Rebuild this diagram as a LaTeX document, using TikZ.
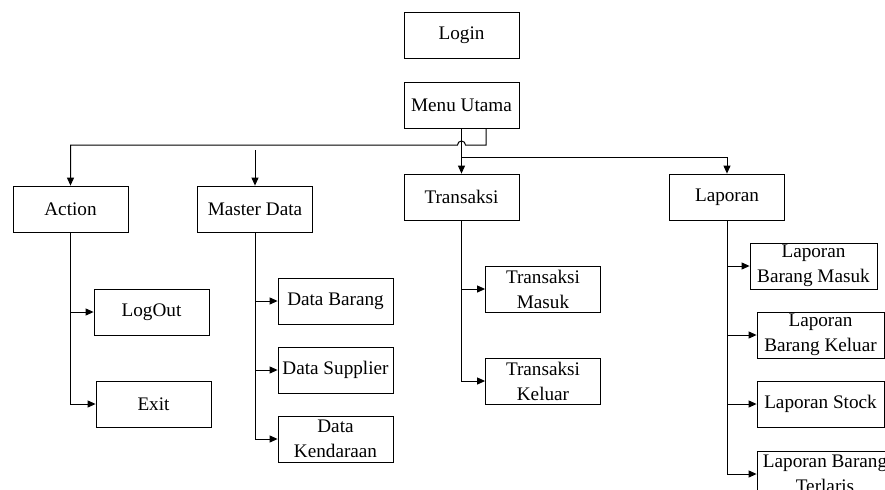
\documentclass[tikz,border=0pt]{standalone}
\usepackage{fontspec}
\setmainfont{Liberation Serif}
\usetikzlibrary{arrows.meta, positioning}

\begin{document}
\begin{tikzpicture}[x=0.5pt, y=-0.5pt,
  menubox/.style={draw=black, fill=white, text=black, minimum width=57.5pt,
  minimum height=23pt, inner sep=1pt, align=center,
  font=\fontsize{9.6}{12.5}\selectfont},
  widebox/.style={menubox, minimum width=63.5pt},
  link/.style={-{Triangle[length=4pt, width=3.5pt]}, line width=0.5pt}]

    \useasboundingbox (0,0) rectangle (885,489);
    \clip (0,0) rectangle (885,489);

    %creates login and main menu
    \node (login) [menubox] at (461.5,35.5) {Login};%draws Login
    \node (menu) [menubox, below=11.5pt of login] {Menu Utama};%draws Menu Utama

    %creates the four main parts
    \node (action) [menubox] at (70.5,209) {Action};
    \node (master) [menubox] at (255,209) {Master Data};
    \node (trans) [menubox] at (461.5,197) {Transaksi};
    \node (lap) [menubox] at (727,197) {Laporan};

    %creates the sub menus
    \node (logout) [menubox] at (151.5,312) {LogOut};
    \node (exit) [menubox] at (153.5,404) {Exit};
    \node (barang) [menubox] at (335.5,301) {Data Barang};
    \node (supplier) [menubox] at (335.5,370) {Data Supplier};
    \node (kendaraan) [menubox] at (335.5,439) {Data\\Kendaraan};
    \node (tmasuk) [menubox] at (543,289) {Transaksi\\Masuk};
    \node (tkeluar) [menubox] at (543,381) {Transaksi\\Keluar};
    \node (lmasuk) [widebox] at (813.5,266) {Laporan\\Barang Masuk};
    \node (lkeluar) [widebox] at (820.5,335) {Laporan\\Barang Keluar};
    \node (lstock) [widebox] at (820.5,404) {Laporan Stock};
    \node (lterlaris) [widebox, minimum width=68pt] at (825,474) {Laporan Barang\\Terlaris};

    %points where the lines turn
    \coordinate (hub) at (486,145);
    \coordinate (hop) at (465.5,145);
    \coordinate (split) at (461.5,157);
    \coordinate (mstart) at (255,150);

    %draws lines from the main menu
    \draw [link] (menu.south -| hub) -- (hub) -- (hop) arc[start angle=0, end angle=180, radius=2pt] -- (action.north |- hub) -- (action.north);%draws line to Action with a hop
    \draw [link] (menu.south) -- (trans.north);%draws line to Transaksi
    \draw [link] (split) -| (lap.north);%draws line to Laporan
    \draw [link] (mstart) -- (master.north);%draws line to Master Data

    %draws lines to the sub menus
    \draw [link] (action.south) |- (logout.west);
    \draw [link] (action.south) |- (exit.west);
    \draw [link] (master.south) |- (barang.west);
    \draw [link] (master.south) |- (supplier.west);
    \draw [link] (master.south) |- (kendaraan.west);
    \draw [link] (trans.south) |- (tmasuk.west);
    \draw [link] (trans.south) |- (tkeluar.west);
    \draw [link] (lap.south) |- (lmasuk.west);
    \draw [link] (lap.south) |- (lkeluar.west);
    \draw [link] (lap.south) |- (lstock.west);
    \draw [link] (lap.south) |- (lterlaris.west);
  \end{tikzpicture}
\end{document}
